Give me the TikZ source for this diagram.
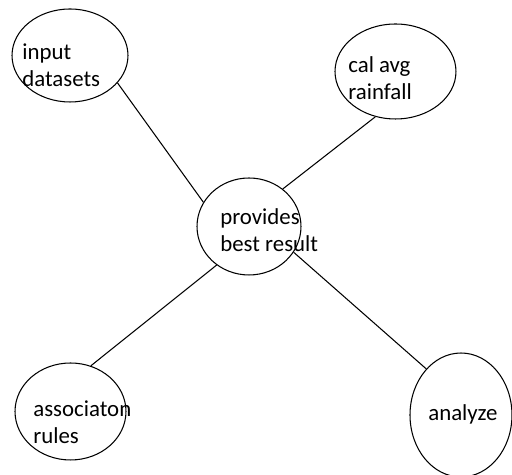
\documentclass[tikz,border=0pt]{standalone}
\usepackage{fontspec}
\setmainfont{Carlito}
\usepackage{tikz}
\usetikzlibrary{shapes.geometric}

\begin{document}
\begin{tikzpicture}[x=0.02cm, y=-0.02cm,
  bubble/.style={draw=black, line width=0.6pt, ellipse, inner sep=0pt},
  txt/.style={anchor=west, align=left, inner sep=0pt, font=\fontsize{13}{15.5}\selectfont},
  link/.style={draw=black, line width=0.6pt}]

\useasboundingbox (0,0) rectangle (512,475);

% Bubbles (sizes in cm, centres in pixels)
\node[bubble, minimum width=2.32cm, minimum height=1.86cm] (input) at (70,55.5) {};
\node[bubble, minimum width=2.42cm, minimum height=1.90cm] (rain) at (395.5,71.5) {};
\node[bubble, minimum width=2.08cm, minimum height=1.94cm] (best) at (249,226.5) {};
\node[bubble, minimum width=2.22cm, minimum height=1.94cm] (rules) at (70.5,411.5) {};
\node[bubble, minimum width=2.04cm, minimum height=2.48cm] (analyze) at (461,415) {};

% Texts
\node[txt] (input-txt) at (22,65.5) {input\\datasets};
\node[txt] (rain-txt) at (348,78) {cal avg\\rainfall};
\node[txt] (best-txt) at (220,230) {provides\\best result};
\node[txt] (rules-txt) at (33,422) {associaton\\rules};
\node[txt] (analyze-txt) at (428,414) {analyze};

% Connectors
\draw[link] (input.-30.5) -- (best.152.9);
\draw[link] (rain.246.3) -- (best.48.7);
\draw[link] (best.230.3) -- (rules.66.2);
\draw[link] (best.-30.7) -- (analyze.127.5);

\end{tikzpicture}
\end{document}
